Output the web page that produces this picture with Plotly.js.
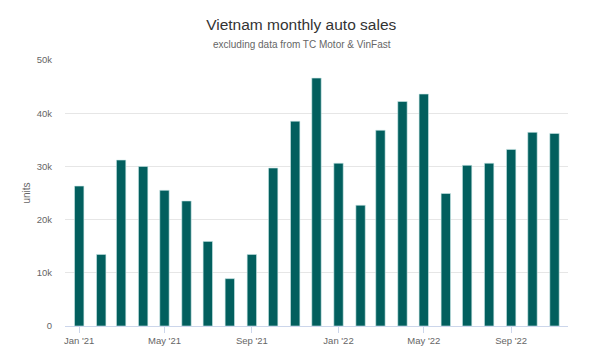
<!DOCTYPE html>
<html>
<head>
<meta charset="utf-8">
<script src="https://cdn.plot.ly/plotly-3.0.1.min.js"></script>
<style>html,body{margin:0;padding:0;background:#fff;}#chart{width:600px;height:353px;}</style>
</head>
<body>
<div id="chart"></div>
<script>
const months = ["2021-01-01","2021-02-01","2021-03-01","2021-04-01","2021-05-01","2021-06-01","2021-07-01","2021-08-01","2021-09-01","2021-10-01","2021-11-01","2021-12-01","2022-01-01","2022-02-01","2022-03-01","2022-04-01","2022-05-01","2022-06-01","2022-07-01","2022-08-01","2022-09-01","2022-10-01","2022-11-01"];
const sales = [26300,13450,31200,30000,25500,23500,15900,8900,13450,29700,38500,46600,30600,22700,36800,42200,43600,24900,30200,30600,33200,36400,36200];
const titleText = "Vietnam monthly auto sales";
const subtitleText = "excluding data from TC Motor & VinFast";
const yTitle = "units";

const font = "Liberation Sans, Arial, sans-serif";
Plotly.newPlot("chart", [{
  type: "bar",
  x: months,
  y: sales,
  width: 0.44 * 30 * 24 * 3600 * 1000,
  marker: {color: "#025f5e", line: {color: "#cde9ea", width: 0.6}},
  hoverinfo: "x+y"
}], {
  width: 600, height: 353,
  margin: {l: 65, r: 32, t: 60, b: 27},
  paper_bgcolor: "#fff", plot_bgcolor: "#fff",
  font: {family: font, color: "#666"},
  title: {text: titleText, font: {size: 15.5, color: "#333", family: font}, x: 0.502, xanchor: "center", y: 1 - 25/353, yanchor: "middle", yref: "container"},
  annotations: [{text: subtitleText, xref: "paper", yref: "paper", x: (302-65)/503, y: 1 + 16/266, xanchor: "center", yanchor: "middle", showarrow: false, font: {size: 10, color: "#666", family: font}}],
  xaxis: {
    type: "date",
    range: ["2020-12-12", "2022-11-20"],
    tick0: "2021-01-01", dtick: "M4",
    tickformat: "%b '%y",
    ticks: "outside", ticklen: 6, tickcolor: "#ccd6eb",
    showline: true, linecolor: "#ccd6eb", linewidth: 1,
    showgrid: false, zeroline: false,
    tickfont: {size: 9.5, color: "#666"}
  },
  yaxis: {
    range: [0, 50000], dtick: 10000,
    tickvals: [0,10000,20000,30000,40000,50000],
    ticktext: ["0","10k","20k","30k","40k","50k"],
    gridcolor: "#e6e6e6", gridwidth: 1, zeroline: false,
    tickfont: {size: 9.5, color: "#666"},
    ticks: "", ticklabelstandoff: 12,
    title: {text: yTitle, font: {size: 10, color: "#666"}, standoff: 4}
  },
  bargap: 0.5,
  showlegend: false
}, {displayModeBar: false, staticPlot: true});
</script>
</body>
</html>
